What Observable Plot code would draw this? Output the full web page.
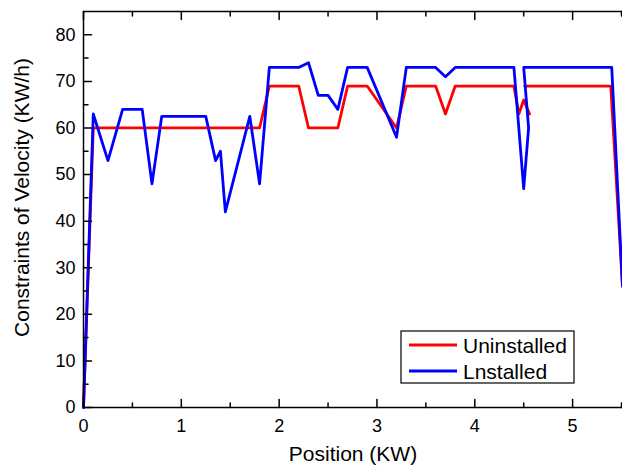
<!DOCTYPE html>
<html>
<head>
<meta charset="utf-8">
<script src="https://cdn.jsdelivr.net/npm/d3@7"></script>
<script src="https://cdn.jsdelivr.net/npm/@observablehq/plot@0.6"></script>
<style>
  html, body { margin: 0; padding: 0; background: #fff; }
  #wrap { position: relative; width: 622px; height: 468px; overflow: hidden; }
  #legend { position: absolute; left: 0; top: 0; pointer-events: none; }
</style>
</head>
<body>
<div id="wrap"></div>
<script>
// ---- data ----
const uninstalledX = [0, 0.1, 1.8, 1.9, 2.2, 2.3, 2.6, 2.7, 2.9, 3.2, 3.3, 3.6, 3.7, 3.8, 4.4, 4.45, 4.5, 4.56, 4.56, 4.51, 5.39, 5.51];
const uninstalledY = [0, 60, 60, 69, 69, 60, 60, 69, 69, 60, 69, 69, 63, 69, 69, 63, 66, 63, null, 69, 69, 26];
const installedX = [0, 0.1, 0.25, 0.4, 0.6, 0.7, 0.8, 1.25, 1.35, 1.4, 1.45, 1.7, 1.8, 1.9, 2.2, 2.3, 2.4, 2.5, 2.6, 2.7, 2.9, 3.2, 3.3, 3.6, 3.7, 3.8, 4.4, 4.5, 4.55, 4.5, 5.4, 5.51];
const installedY = [0, 63, 53, 64, 64, 48, 62.5, 62.5, 53, 55, 42, 62.5, 48, 73, 73, 74, 67, 67, 64, 73, 73, 58, 73, 73, 71, 73, 73, 47, 60, 73, 73, 26];
const seriesNames = ["Uninstalled", "Lnstalled"];
const seriesColors = ["#ff0000", "#0000ff"];
const xTicks = [0, 1, 2, 3, 4, 5];
const xMinorTicks = [0.5, 1.5, 2.5, 3.5, 4.5, 5.5];
const yTicks = [0, 10, 20, 30, 40, 50, 60, 70, 80];
const yMinorTicks = [5, 15, 25, 35, 45, 55, 65, 75];
const xDomain = [0, 5.51];
const yDomain = [0, 85];
const xTitle = "Position (KW)";
const yTitle = "Constraints of Velocity (KW/h)";

const uninstalled = uninstalledX.map((x, i) => ({x, y: uninstalledY[i]}));
const installed = installedX.map((x, i) => ({x, y: installedY[i]}));

const tickShape = {draw(context, l) { context.moveTo(0, 0); context.lineTo(0, -l); }};
const tickStyle = {stroke: "#000", strokeWidth: 1.5, anchor: "start", shape: tickShape};

const chart = Plot.plot({
  width: 622,
  height: 468,
  marginLeft: 83,
  marginRight: 0,
  marginTop: 11,
  marginBottom: 61,
  style: {fontFamily: "'Liberation Sans', Arial, sans-serif", fontSize: "18px", color: "#000", background: "#fff"},
  x: {domain: xDomain, label: null},
  y: {domain: yDomain, label: null},
  marks: [
    Plot.line(uninstalled, {x: "x", y: "y", stroke: seriesColors[0], strokeWidth: 2.8}),
    Plot.line(installed, {x: "x", y: "y", stroke: seriesColors[1], strokeWidth: 2.8}),
    // frame (left, top, bottom)
    Plot.ruleX([xDomain[0]], {stroke: "#000", strokeWidth: 1.5}),
    Plot.ruleY([yDomain[0], yDomain[1]], {stroke: "#000", strokeWidth: 1.5}),
    // inward ticks
    Plot.vector(xTicks, {x: d => d, frameAnchor: "bottom", rotate: 0, length: 8, ...tickStyle}),
    Plot.vector(xMinorTicks, {x: d => d, frameAnchor: "bottom", rotate: 0, length: 4.5, ...tickStyle}),
    Plot.vector(xTicks, {x: d => d, frameAnchor: "top", rotate: 180, length: 8, ...tickStyle}),
    Plot.vector(xMinorTicks, {x: d => d, frameAnchor: "top", rotate: 180, length: 4.5, ...tickStyle}),
    Plot.vector(yTicks, {y: d => d, frameAnchor: "left", rotate: 90, length: 8, ...tickStyle}),
    Plot.vector(yMinorTicks, {y: d => d, frameAnchor: "left", rotate: 90, length: 4.5, ...tickStyle}),
    // tick labels
    Plot.axisX(xTicks, {anchor: "bottom", tickSize: 0, tickPadding: 12, label: null, fontSize: 18}),
    Plot.axisY(yTicks, {anchor: "left", tickSize: 0, tickPadding: 8, label: null, fontSize: 18}),
    // titles
    Plot.text([xTitle], {text: d => d, frameAnchor: "bottom", textAnchor: "middle", dy: 53, fontSize: 21, fill: "#000"}),
    Plot.text([yTitle], {text: d => d, frameAnchor: "left", textAnchor: "middle", rotate: -90, dx: -61, dy: -12, fontSize: 21, fill: "#000"})
  ]
});

const wrap = document.getElementById("wrap");
wrap.appendChild(chart);

// legend overlay
const lg = d3.select(wrap).append("svg")
  .attr("id", "legend").attr("width", 622).attr("height", 468)
  .style("font-family", "'Liberation Sans', Arial, sans-serif");
lg.append("rect").attr("x", 401).attr("y", 331).attr("width", 173).attr("height", 52)
  .attr("fill", "#fff").attr("stroke", "#000").attr("stroke-width", 1.2);
seriesNames.forEach((name, i) => {
  const cy = 345 + i * 26;
  lg.append("line").attr("x1", 409).attr("x2", 457).attr("y1", cy).attr("y2", cy)
    .attr("stroke", seriesColors[i]).attr("stroke-width", 2.8);
  lg.append("text").attr("x", 463).attr("y", cy).attr("dy", "0.36em")
    .attr("font-size", 21).attr("fill", "#000").text(name);
});
</script>
</body>
</html>
